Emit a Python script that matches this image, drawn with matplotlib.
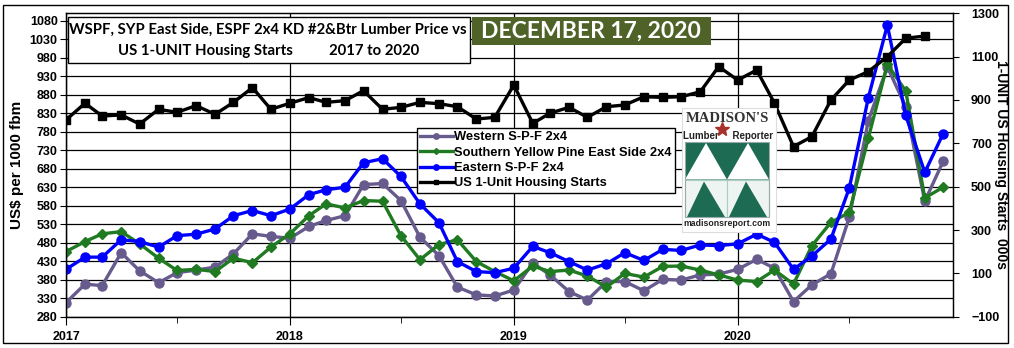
import matplotlib
matplotlib.use("Agg")
import matplotlib.pyplot as plt
from matplotlib.patches import Rectangle, Polygon
from matplotlib.lines import Line2D
import pandas as pd

# monthly values, Jan 2017 .. Dec 2020 (starts end Nov 2020)
western = [318, 368, 364, 453, 404, 372, 399, 406, 414, 450, 504, 497,
           492, 524, 540, 553, 637, 640, 594, 495, 445, 360, 339, 336,
           352, 425, 393, 348, 325, 375, 375, 350, 381, 379, 393, 395,
           408, 435, 411, 321, 366, 396, 549, 810, 955, 847, 592, 700]
syp_east = [456, 483, 504, 510, 477, 438, 405, 408, 402, 438, 426, 468,
            504, 553, 585, 574, 594, 592, 499, 434, 475, 488, 429, 402,
            377, 417, 402, 406, 390, 360, 397, 387, 416, 417, 406, 393,
            379, 375, 406, 368, 472, 535, 562, 763, 962, 890, 601, 630]
eastern = [408, 441, 441, 488, 483, 468, 499, 503, 517, 553, 567, 553,
           571, 610, 623, 630, 696, 707, 659, 585, 534, 429, 402, 399,
           411, 470, 453, 429, 406, 423, 453, 432, 462, 459, 474, 472,
           477, 503, 481, 408, 444, 490, 628, 872, 1068, 824, 670, 775]
starts = [808, 885, 826, 831, 789, 857, 843, 874, 834, 889, 957, 857,
          885, 911, 889, 897, 943, 857, 866, 889, 883, 869, 812, 820,
          969, 792, 839, 866, 820, 869, 877, 915, 912, 915, 938, 1054,
          992, 1038, 885, 685, 731, 900, 992, 1031, 1100, 1185, 1195]
labels = ["Western S-P-F 2x4", "Southern Yellow Pine East Side 2x4",
          "Eastern S-P-F 2x4", "US 1-Unit Housing Starts"]
years = ["2017", "2018", "2019", "2020"]

dates = pd.date_range("2017-01-01", periods=len(western), freq="MS")

W, H = 1014, 348
fx = lambda x: x / W
fy = lambda y: 1 - y / H

plt.rcParams['font.family'] = ['Liberation Sans', 'DejaVu Sans']
plt.rcParams['font.weight'] = 'bold'

fig = plt.figure(figsize=(W / 100, H / 100), dpi=100)
ax = fig.add_axes([fx(66), fy(316.7), fx(953) - fx(66), fy(13.3) - fy(316.7)])
ax2 = ax.twinx()

purple, green, blue = "#675a8c", "#1f7a22", "#0000ff"
h1, = ax.plot(dates, western, color=purple, lw=2.4, marker='o', ms=6.5, zorder=3)
h2, = ax.plot(dates, syp_east, color=green, lw=2.4, marker='D', ms=5, zorder=4)
h3, = ax.plot(dates, eastern, color=blue, lw=2.4, marker='o', ms=6.5, zorder=5)
h4, = ax2.plot(dates[:len(starts)], starts, color="black", lw=2.4, marker='s', ms=6)

ax.set_ylim(280, 1100)
ax2.set_ylim(-100, 1300)
ax.set_xlim(pd.Timestamp("2017-01-01"), pd.Timestamp("2020-12-17"))
ax.set_yticks(range(280, 1081, 50))
ax2.set_yticks(range(-100, 1301, 200))
ax.set_xticks([pd.Timestamp(y + "-01-01") for y in years])
ax.set_xticklabels(years)
ax.set_xticks([pd.Timestamp(y + "-07-01") for y in years], minor=True)

ax.grid(True, axis='y', color='black', lw=0.9)
ax.grid(True, axis='x', which='major', color='black', lw=0.9)
ax.set_axisbelow(True)
for a in (ax, ax2):
    for s in a.spines.values():
        s.set_color('black')
        s.set_linewidth(0.9)
ax.tick_params(axis='y', direction='out', length=4, labelsize=9, pad=2)
ax.tick_params(axis='x', which='major', direction='out', length=6, labelsize=9, pad=4)
ax.tick_params(axis='x', which='minor', direction='out', length=4)
ax2.tick_params(axis='y', direction='out', length=4, labelsize=9, pad=9)
for t in ax.get_yticklabels() + ax.get_xticklabels() + ax2.get_yticklabels():
    t.set_fontweight('bold')

ax.set_ylabel("US$ per 1000 fbm", fontsize=11, fontweight='bold', labelpad=4)
ax2.set_ylabel("1-UNIT US Housing Starts  000s", fontsize=10, fontweight='bold',
               rotation=-90, labelpad=6)

leg = ax2.legend([h1, h2, h3, h4], labels, loc='upper left',
                 bbox_to_anchor=(fx(417), fy(128)), bbox_transform=fig.transFigure,
                 fancybox=False, edgecolor='black', framealpha=1, fontsize=9.3,
                 handlelength=2.5, handletextpad=0.1, labelspacing=0.26,
                 borderpad=0.25, markerscale=0.6, borderaxespad=0)
leg.get_frame().set_linewidth(1)
for t in leg.get_texts():
    t.set_fontweight('bold')

# outer border
fig.patches.append(Rectangle((fx(3), fy(343)), fx(1008) - fx(3), fy(5) - fy(343),
                             transform=fig.transFigure, fill=False, ec='black', lw=1))

# title box
fig.patches.append(Rectangle((fx(68), fy(63)), fx(470) - fx(68), fy(17) - fy(63),
                             transform=fig.transFigure, fc='white', ec='black', lw=1))
tfont = ['Lato', 'DejaVu Sans']
fig.text(fx(268), fy(30), "WSPF, SYP East Side, ESPF 2x4 KD #2&Btr Lumber Price vs",
         ha='center', va='center', fontsize=10.7, fontweight='bold', family=tfont)
fig.text(fx(205), fy(51), "US 1-UNIT Housing Starts", ha='center', va='center',
         fontsize=10.7, fontweight='bold', family=tfont)
fig.text(fx(374), fy(51), "2017 to 2020", ha='center', va='center',
         fontsize=10.7, fontweight='bold', family=tfont)

# date box
fig.patches.append(Rectangle((fx(472), fy(45)), fx(711) - fx(472), fy(17) - fy(45),
                             transform=fig.transFigure, fc='#4f6228', ec='none'))
fig.text(fx(591), fy(31.5), "DECEMBER 17, 2020", ha='center', va='center', color='white',
         fontsize=16.5, fontweight='bold', family=tfont)

# logo
lg = "#1d6b52"
fig.patches.append(Rectangle((fx(682), fy(232)), fx(776) - fx(682), fy(108) - fy(232),
                             transform=fig.transFigure, fc='white', ec='#dddddd', lw=0.8))
fig.text(fx(727), fy(118), "MADISON'S", ha='center', va='center', fontsize=10.5,
         fontweight='bold', color='#333333', family=['Liberation Serif'])
fig.text(fx(728), fy(136), "Lumber     Reporter", ha='center', va='center', fontsize=7,
         fontweight='bold', color='#222222')
fig.add_artist(Line2D([fx(722)], [fy(129)], marker='*', ms=10, color='#a8322a',
                      transform=fig.transFigure))
cw, ch = 42, 37.5
for k in range(2):
    cx = 685 + k * cw
    # top row: green cell with white up-triangle
    top = 142
    fig.patches.append(Rectangle((fx(cx), fy(top + ch)), fx(cw), fy(0) - fy(ch),
                                 transform=fig.transFigure, fc=lg, ec='none'))
    fig.patches.append(Polygon([(fx(cx), fy(top + ch)), (fx(cx + cw / 2), fy(top + 1)),
                                (fx(cx + cw), fy(top + ch))], closed=True,
                               transform=fig.transFigure, fc='white', ec='none'))
    # bottom row: light cell with green up-triangle
    top = 142 + ch
    fig.patches.append(Rectangle((fx(cx), fy(top + ch)), fx(cw), fy(0) - fy(ch),
                                 transform=fig.transFigure, fc='#eef4f1', ec='#a9cfc0', lw=0.8))
    fig.patches.append(Polygon([(fx(cx + 2), fy(top + ch)), (fx(cx + cw / 2 - 2), fy(top + 2)),
                                (fx(cx + cw - 2), fy(top + ch))], closed=True,
                               transform=fig.transFigure, fc=lg, ec='none'))
fig.patches.append(Rectangle((fx(685), fy(142 + 2 * ch)), fx(2 * cw), fy(0) - fy(2 * ch),
                             transform=fig.transFigure, fill=False, ec='#9aa', lw=0.8))
fig.text(fx(727), fy(224), "madisonsreport.com", ha='center', va='center', fontsize=6.3,
         fontweight='bold', color='#222222')

fig.savefig("out.png", dpi=100)
